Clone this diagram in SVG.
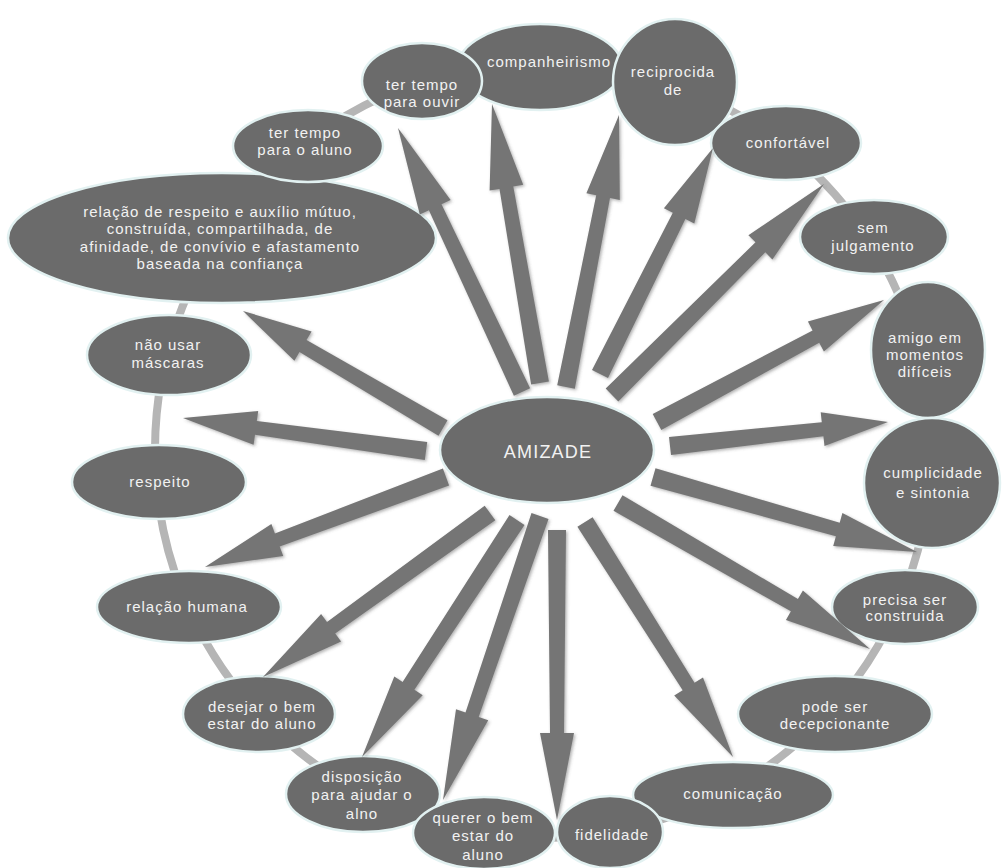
<svg xmlns="http://www.w3.org/2000/svg" width="1002" height="868" viewBox="0 0 1002 868">
<defs>
<filter id="sh" x="-20%" y="-20%" width="140%" height="140%">
<feDropShadow dx="1.5" dy="1.5" stdDeviation="1.5" flood-color="#555" flood-opacity="0.45"/>
</filter>
<style>
.nd{fill:#6b6b6b;stroke:#e2f1f1;stroke-width:2.5}
.tx{fill:#f2f2f2;font-family:"Liberation Sans",Arial,sans-serif;font-size:15px;letter-spacing:1px;text-anchor:middle}
.big{font-size:18px;letter-spacing:1.2px}
.ar{fill:#757575;filter:url(#sh)}
.ring{fill:none;stroke:#b5b5b5;stroke-width:8}
</style>
</defs>
<rect width="1002" height="868" fill="#ffffff"/>
<g id="connectors">
<circle class="ring" cx="543" cy="450" r="388"/>
</g>
<g id="n-companheirismo"><ellipse class="nd" cx="540" cy="67" rx="82" ry="43"/><text class="tx" x="549" y="67">companheirismo</text></g>
<g id="n-reciprocidade"><ellipse class="nd" cx="675" cy="82" rx="62" ry="63"/><text class="tx" x="673" y="77">reciprocida</text><text class="tx" x="673" y="95">de</text></g>
<g id="n-ouvir"><ellipse class="nd" cx="422" cy="81" rx="60" ry="38"/><text class="tx" x="422" y="90">ter tempo</text><text class="tx" x="422" y="107">para ouvir</text></g>
<g id="n-confortavel"><ellipse class="nd" cx="786" cy="143" rx="75" ry="37"/><text class="tx" x="788" y="148">confortável</text></g>
<g id="n-julgamento"><ellipse class="nd" cx="874" cy="237" rx="74" ry="37"/><text class="tx" x="873" y="233">sem</text><text class="tx" x="873" y="251">julgamento</text></g>
<g id="n-amigo"><ellipse class="nd" cx="928" cy="350" rx="57" ry="68"/><text class="tx" x="925" y="343">amigo em</text><text class="tx" x="925" y="360">momentos</text><text class="tx" x="925" y="377">difíceis</text></g>
<g id="n-cumplicidade"><ellipse class="nd" cx="932" cy="483" rx="68" ry="65"/><text class="tx" x="933" y="478">cumplicidade</text><text class="tx" x="933" y="498">e sintonia</text></g>
<g id="n-precisa"><ellipse class="nd" cx="905" cy="607" rx="73" ry="37"/><text class="tx" x="905" y="605">precisa ser</text><text class="tx" x="905" y="621">construida</text></g>
<g id="n-pode"><ellipse class="nd" cx="835" cy="714" rx="97" ry="38"/><text class="tx" x="835" y="712">pode ser</text><text class="tx" x="835" y="729">decepcionante</text></g>
<g id="n-comunicacao"><ellipse class="nd" cx="733" cy="795" rx="100" ry="33"/><text class="tx" x="733" y="799">comunicação</text></g>
<g id="n-fidelidade"><ellipse class="nd" cx="610" cy="832" rx="53" ry="36"/><text class="tx" x="612" y="840">fidelidade</text></g>
<g id="n-disposicao"><ellipse class="nd" cx="363" cy="794" rx="77" ry="38"/><text class="tx" x="362" y="782">disposição</text><text class="tx" x="362" y="800">para ajudar o</text><text class="tx" x="362" y="819">alno</text></g>
<g id="n-querer"><ellipse class="nd" cx="484" cy="833" rx="71" ry="36"/><text class="tx" x="483" y="823">querer o bem</text><text class="tx" x="483" y="841">estar do</text><text class="tx" x="483" y="860">aluno</text></g>
<g id="n-desejar"><ellipse class="nd" cx="259" cy="714" rx="76" ry="38"/><text class="tx" x="262" y="712">desejar o bem</text><text class="tx" x="262" y="729">estar do aluno</text></g>
<g id="n-humana"><ellipse class="nd" cx="189" cy="607" rx="92" ry="36"/><text class="tx" x="187" y="612">relação humana</text></g>
<g id="n-respeito"><ellipse class="nd" cx="159" cy="482" rx="87" ry="37"/><text class="tx" x="160" y="487">respeito</text></g>
<g id="n-mascaras"><ellipse class="nd" cx="169" cy="355" rx="82" ry="40"/><text class="tx" x="168" y="350">não usar</text><text class="tx" x="168" y="368">máscaras</text></g>
<g id="n-relacao"><ellipse class="nd" cx="222" cy="238" rx="214" ry="65"/><text class="tx" x="220" y="217">relação de respeito e auxílio mútuo,</text><text class="tx" x="220" y="234">construída, compartilhada, de</text><text class="tx" x="220" y="252">afinidade, de convívio e afastamento</text><text class="tx" x="220" y="269">baseada na confiança</text></g>
<g id="n-aluno"><ellipse class="nd" cx="308" cy="146" rx="75" ry="36"/><text class="tx" x="305" y="138">ter tempo</text><text class="tx" x="305" y="155">para o aluno</text></g>
<g id="n-amizade"><ellipse class="nd" cx="547" cy="450" rx="107" ry="53"/><text class="tx big" x="548" y="458">AMIZADE</text></g>
<g id="arrows">
<polygon class="ar" points="530.1,388.2 441.5,204.2 450.6,200 398,128 419.8,214.4 428.9,210.2 513.9,395.8"/>
<polygon class="ar" points="548.9,381.5 513.3,186.5 523.2,184.8 492,104 489.6,190.6 499.5,188.9 531.1,384.5"/>
<polygon class="ar" points="574.8,388.7 610,197.9 619.8,199.9 619,115 586.4,193.3 596.2,195.3 557.2,385.3"/>
<polygon class="ar" points="608,378 685.4,218.9 694.3,223.4 713,148 663.9,208.2 672.8,212.7 592,370"/>
<polygon class="ar" points="618.3,401.4 765.3,252.3 772.4,259.4 824,184 748.4,235.3 755.5,242.3 605.7,388.6"/>
<polygon class="ar" points="661.3,429.9 819.2,342.8 823.9,351.6 884,300 807.9,321.6 812.6,330.4 652.7,414.1"/>
<polygon class="ar" points="671,454.9 823.4,436.2 824.5,446.1 888,422 820.7,412.3 821.8,422.2 669,437.1"/>
<polygon class="ar" points="650.5,485.7 835.9,536.2 833.2,545.9 917,552 842.4,513.1 839.7,522.8 655.5,468.3"/>
<polygon class="ar" points="613.5,510.8 790.9,611.3 785.9,619.9 870,649 802.9,590.5 797.9,599.1 622.5,495.2"/>
<polygon class="ar" points="577.4,526.8 682.7,690.2 674.2,695.6 733,757 703,677.4 694.5,682.8 592.6,517.2"/>
<polygon class="ar" points="548,530 550,733 540,733 557,820 574,733 564,733 566,530"/>
<polygon class="ar" points="531.5,513.1 465.5,712.5 456,709.3 443,800 488.2,720.3 478.7,717.1 548.5,518.9"/>
<polygon class="ar" points="509.5,515.1 402.6,682.1 394.3,676.6 362,757 422.7,695.2 414.4,689.7 524.5,524.9"/>
<polygon class="ar" points="484.7,505.7 327,622.1 321.1,614 263,677 341.1,641.6 335.2,633.5 495.3,520.3"/>
<polygon class="ar" points="442.9,468.6 274.9,533.4 271.4,524.1 205,567 283.2,555.9 279.7,546.6 449.1,485.4"/>
<polygon class="ar" points="427.2,442.1 256.8,421 258.2,411.1 183,418 253.6,444.7 255,434.8 424.8,459.9"/>
<polygon class="ar" points="447.5,420.2 306.5,340.1 311.6,331.4 243,311 294.4,360.8 299.5,352.1 438.5,435.8"/>
</g>
</svg>
